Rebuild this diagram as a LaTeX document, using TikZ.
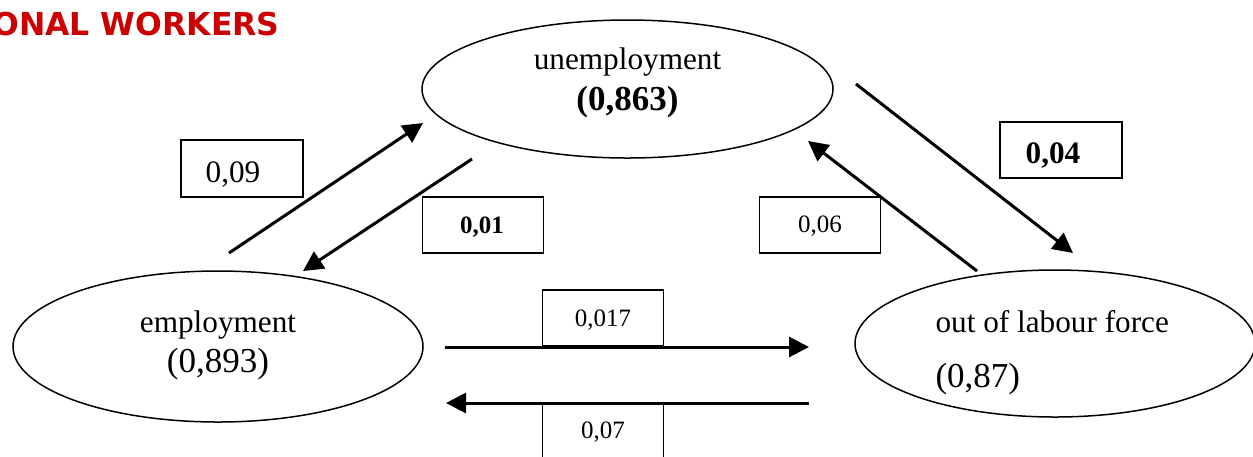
\documentclass[tikz,border=0pt]{standalone}
\usepackage{fontspec}
\setmainfont{Liberation Serif}
\newfontfamily\titlefont{DejaVu Sans}
\usetikzlibrary{shapes.geometric,arrows.meta}
\definecolor{titlered}{HTML}{CC0000}
\begin{document}
\begin{tikzpicture}[x=0.4pt,y=-0.4pt,
  state/.style={draw,ellipse,line width=0.6pt,inner sep=0pt},
  valbox/.style={draw,rectangle,line width=0.55pt,inner sep=0pt,minimum width=48.4pt,minimum height=22.4pt},
  flow/.style={line width=1.2pt,-{Triangle[length=8pt,width=8pt]}},
  lbl/.style={inner sep=0pt,font=\fontsize{12.5}{15}\selectfont},
  num/.style={inner sep=0pt,font=\fontsize{14}{17}\selectfont},
  small/.style={inner sep=0pt,font=\fontsize{10}{12}\selectfont},
]
\useasboundingbox (0,0) rectangle (1253,456);
\clip (0,0) rectangle (1253,456);

% title
\node[anchor=base east,inner sep=0pt,text=titlered,font=\titlefont\bfseries\fontsize{12.6}{15}\selectfont] (title) at (280,35) {ONAL WORKERS};

% states
\node[state,minimum width=164.4pt,minimum height=55.2pt] (U) at (627.5,89) {};
\node[state,minimum width=164pt,minimum height=60.4pt] (E) at (218,346.5) {};
\node[state,minimum width=160pt,minimum height=58.8pt] (O) at (1055,343.5) {};

\node[lbl,anchor=base] (Ut) at (627.5,69) {unemployment};
\node[num,anchor=base] (Un) at (627.5,110) {\textbf{(0,863)}};
\node[lbl,anchor=base] (Et) at (218,332) {employment};
\node[num,anchor=base] (En) at (218,372) {(0,893)};
\node[lbl,anchor=base west] (Ot) at (935,332) {out of labour force};
\node[num,anchor=base west] (On) at (935,387) {(0,87)};

% value boxes
\node[valbox,minimum width=48.8pt,minimum height=22.8pt] (b09) at (242,168.5) {};
\node[lbl,anchor=base] (t09) at (233,182) {0,09};
\node[valbox] (b01) at (483,225) {};
\node[small,anchor=base] (t01) at (482,233) {\textbf{0,01}};
\node[valbox,minimum width=48.8pt] (b04) at (1061,150) {};
\node[lbl,anchor=base] (t04) at (1053,163) {\textbf{0,04}};
\node[valbox] (b06) at (820,225) {};
\node[small,anchor=base] (t06) at (820,232) {0,06};
\node[valbox] (b017) at (603,318) {};
\node[small,anchor=base] (t017) at (603,326) {0,017};
\node[valbox,minimum height=26pt] (b07) at (603,435.5) {};
\node[small,anchor=base] (t07) at (603,438) {0,07};

% arrow end points
\coordinate (eu1) at (229,253);
\coordinate (eu2) at (423,123);
\coordinate (ue1) at (472,159);
\coordinate (ue2) at (303,271);
\coordinate (uo1) at (856,84);
\coordinate (uo2) at (1073,253);
\coordinate (ou1) at (977,271);
\coordinate (ou2) at (808,141);
\coordinate (eo1) at (445,347);
\coordinate (eo2) at (809,347);
\coordinate (oe1) at (809,403);
\coordinate (oe2) at (446,403);

\draw[flow] (eu1) -- (eu2);
\draw[flow] (ue1) -- (ue2);
\draw[flow] (uo1) -- (uo2);
\draw[flow] (ou1) -- (ou2);
\draw[flow] (eo1) -- (eo2);
\draw[flow] (oe1) -- (oe2);
\end{tikzpicture}
\end{document}
